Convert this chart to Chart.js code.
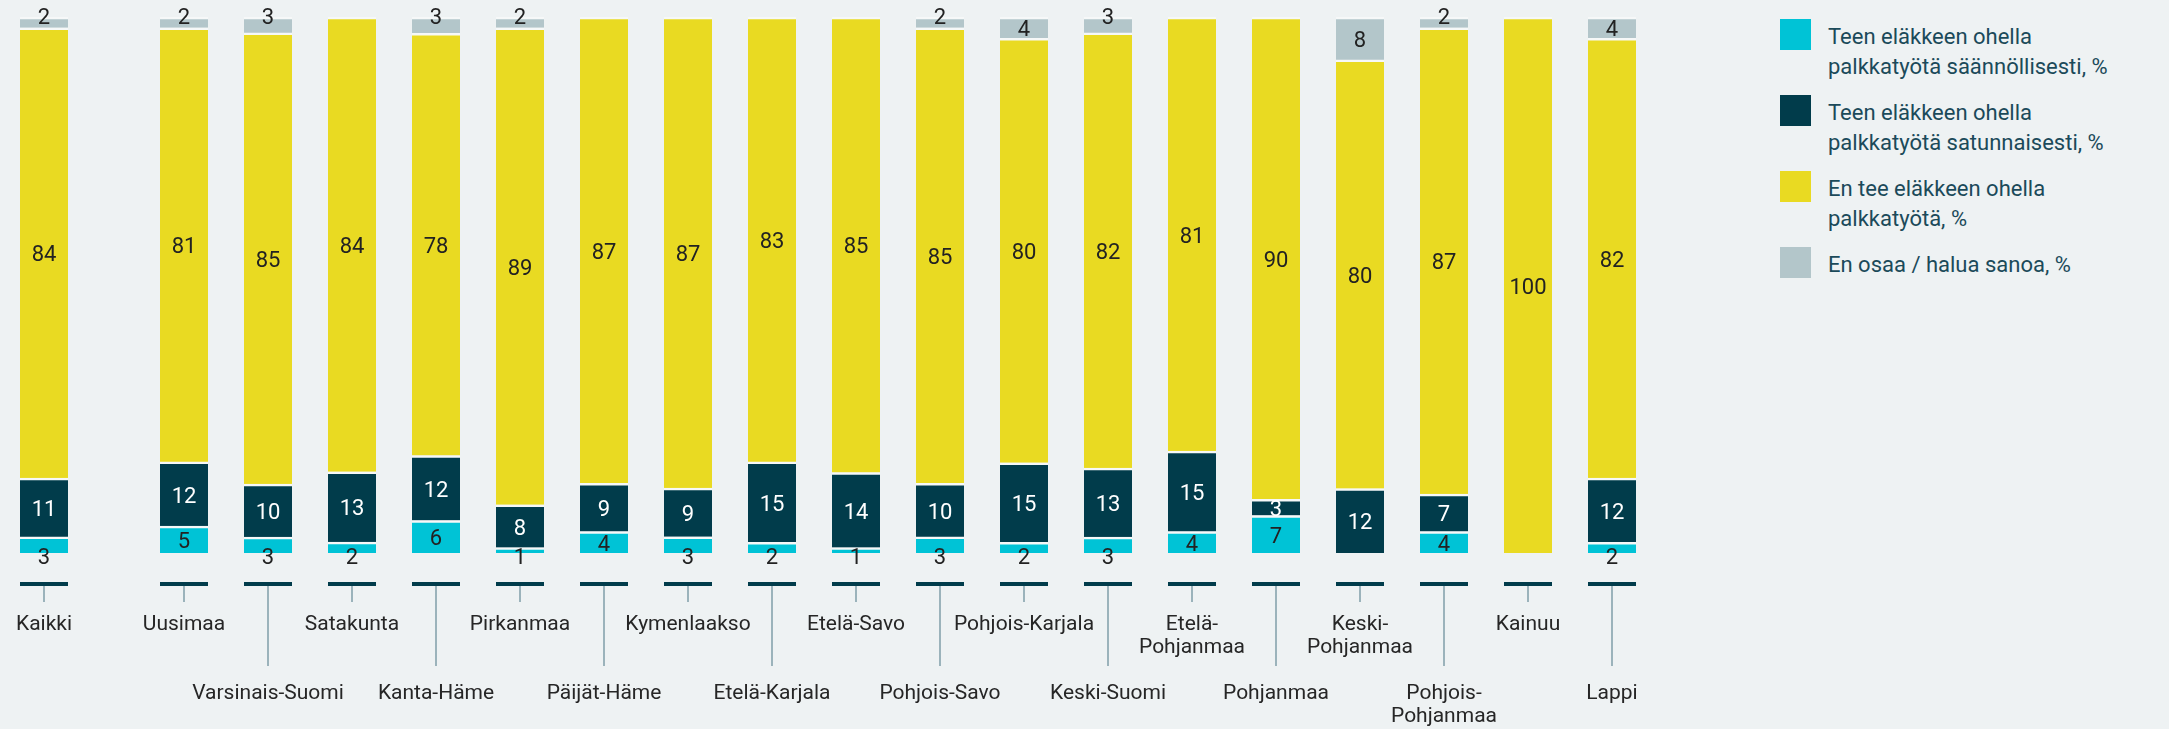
<!DOCTYPE html>
<html>
<head>
<meta charset="utf-8">
<script src="https://cdn.jsdelivr.net/npm/chart.js@4.4.0/dist/chart.umd.min.js"></script>
<style>
  html, body { margin: 0; padding: 0; background: #eef2f3; }
  #wrap { position: relative; width: 2169px; height: 729px; overflow: hidden; }
  #chartA { position: absolute; left: 0; top: 0; }
  #chartB { position: absolute; left: 100px; top: 0; }
  #legend { position: absolute; left: 1780px; top: 19px; font-family: Roboto, sans-serif; font-size: 22px; line-height: 30px; color: #1b4a5a; }
  .item { display: flex; align-items: flex-start; height: 76px; }
  .sw { width: 31px; height: 31px; flex: none; margin-right: 17px; }
  .txt { margin-top: 3px; white-space: pre-line; }
</style>
</head>
<body>
<div id="wrap">
  <canvas id="chartA" width="200" height="729"></canvas>
  <canvas id="chartB" width="1620" height="729"></canvas>
  <div id="legend"></div>
</div>
<script>
// categories: first one is the total, the rest are regions
var categories = [
  'Kaikki', 'Uusimaa', 'Varsinais-Suomi', 'Satakunta', 'Kanta-Häme', 'Pirkanmaa',
  'Päijät-Häme', 'Kymenlaakso', 'Etelä-Karjala', 'Etelä-Savo', 'Pohjois-Savo',
  'Pohjois-Karjala', 'Keski-Suomi', 'Etelä-\nPohjanmaa', 'Pohjanmaa', 'Keski-\nPohjanmaa',
  'Pohjois-\nPohjanmaa', 'Kainuu', 'Lappi'
];

var regular    = [3, 5, 3, 2, 6, 1, 4, 3, 2, 1, 3, 2, 3, 4, 7, 0, 4, 0, 2];
var occasional = [11, 12, 10, 13, 12, 8, 9, 9, 15, 14, 10, 15, 13, 15, 3, 12, 7, 0, 12];
var noWork     = [84, 81, 85, 84, 78, 89, 87, 87, 83, 85, 85, 80, 82, 81, 90, 80, 87, 100, 82];
var dontKnow   = [2, 2, 3, 0, 3, 2, 0, 0, 0, 0, 2, 4, 3, 0, 0, 8, 2, 0, 4];

var seriesNames = [
  'Teen eläkkeen ohella\npalkkatyötä säännöllisesti, %',
  'Teen eläkkeen ohella\npalkkatyötä satunnaisesti, %',
  'En tee eläkkeen ohella\npalkkatyötä, %',
  'En osaa / halua sanoa, %'
];
var seriesColors = ['#00c3d6', '#013c4b', '#e9da22', '#b3c6ca'];
var labelColors  = ['#222222', '#ffffff', '#222222', '#222222'];

var allSeries = [regular, occasional, noWork, dontKnow];

// legend
var legendEl = document.getElementById('legend');
seriesNames.forEach(function (name, i) {
  var item = document.createElement('div');
  item.className = 'item';
  var sw = document.createElement('div');
  sw.className = 'sw';
  sw.style.background = seriesColors[i];
  var txt = document.createElement('div');
  txt.className = 'txt';
  txt.textContent = name;
  item.appendChild(sw);
  item.appendChild(txt);
  legendEl.appendChild(item);
});

// top row / bottom row of the category labels
function isTopRow(idx) {
  return idx === 0 || (idx - 1) % 2 === 0;
}

var decorPlugin = {
  id: 'decor',
  afterDatasetsDraw: function (chart) {
    var ctx = chart.ctx;
    var xs = chart.scales.x;
    var opts = chart.options.plugins.decor;
    ctx.save();

    // value labels
    ctx.font = '22px Roboto';
    ctx.textAlign = 'center';
    ctx.textBaseline = 'middle';
    chart.data.datasets.forEach(function (ds, di) {
      var meta = chart.getDatasetMeta(di);
      meta.data.forEach(function (bar, i) {
        var v = ds.raw[i];
        if (!v) return;
        var h = bar.base - bar.y;
        var y = (bar.y + bar.base) / 2 + 3;
        var color = labelColors[di];
        if (di === 0 && h < 18) { y = bar.base + 5; color = '#222222'; }
        if (di === 3 && h < 18) { y = bar.y + 1; }
        ctx.fillStyle = color;
        ctx.fillText(String(v), bar.x, y);
      });
    });

    // stubs and leader lines under each bar
    chart.data.labels.forEach(function (lab, i) {
      if (opts.skip[i]) return;
      var x = xs.getPixelForValue(i);
      ctx.fillStyle = '#013c4b';
      ctx.fillRect(x - 24, 582, 48, 4);
      ctx.strokeStyle = '#7f9ea8';
      ctx.lineWidth = 1.5;
      ctx.beginPath();
      ctx.moveTo(x, 586);
      ctx.lineTo(x, opts.top[i] ? 602 : 666);
      ctx.stroke();
    });
    ctx.restore();
  }
};

// idx: category indexes shown in one chart, -1 = empty spacer slot
function makeChart(id, idx, padLeft, padRight) {
  var labels = idx.map(function (k) {
    if (k < 0) return '';
    var lines = categories[k].split('\n');
    return isTopRow(k) ? lines : ['', '', ''].concat(lines);
  });
  var datasets = allSeries.map(function (arr, si) {
    return {
      label: seriesNames[si].replace('\n', ' '),
      raw: idx.map(function (k) { return k < 0 ? 0 : arr[k]; }),
      data: idx.map(function (k) {
        if (k < 0 || !arr[k]) return null;
        var tot = regular[k] + occasional[k] + noWork[k] + dontKnow[k];
        return arr[k] / tot * 100;
      }),
      backgroundColor: seriesColors[si],
      borderColor: '#f6f8f8',
      borderWidth: { top: 2.5, left: 0, right: 0, bottom: 0 },
      borderSkipped: 'start',
      barThickness: 48
    };
  });
  return new Chart(document.getElementById(id), {
    type: 'bar',
    data: { labels: labels, datasets: datasets },
    options: {
      animation: false,
      responsive: false,
      layout: { padding: { left: padLeft, right: padRight, top: 17, bottom: 0 } },
      plugins: {
        legend: { display: false },
        tooltip: { enabled: false },
        decor: {
          top: idx.map(function (k) { return k >= 0 && isTopRow(k); }),
          skip: idx.map(function (k) { return k < 0; })
        }
      },
      scales: {
        x: {
          stacked: true,
          grid: { display: false, drawTicks: false },
          border: { display: false },
          ticks: {
            padding: 60,
            color: '#262626',
            autoSkip: false,
            maxRotation: 0,
            font: { family: 'Roboto', size: 21, lineHeight: 1.1 }
          },
          afterFit: function (s) {
            s.height = 176;
            s.paddingLeft = 0;
            s.paddingRight = 0;
          }
        },
        y: { stacked: true, display: false, min: 0, max: 100 }
      }
    },
    plugins: [decorPlugin]
  });
}

var regionIdx = [];
for (var r = 1; r < categories.length; r++) regionIdx.push(r);

var chartA = makeChart('chartA', [0, -1], 2, 30);
var chartB = makeChart('chartB', regionIdx, 42, 66);
</script>
</body>
</html>
